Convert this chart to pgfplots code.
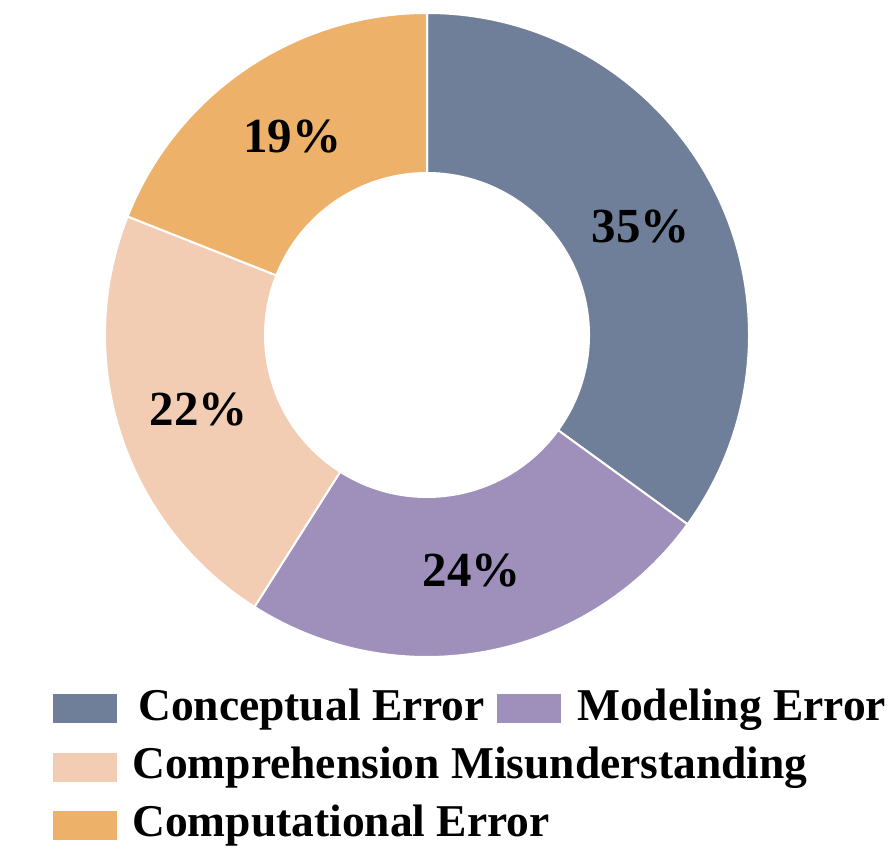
\documentclass[border=0pt]{standalone}
\usepackage{fontspec}
\setmainfont{Liberation Serif}
\usepackage{pgfplots}
\usepackage{pgfplotstable}
\pgfplotsset{compat=1.18}

\definecolor{cConcept}{HTML}{6F7F99}
\definecolor{cModel}{HTML}{9F8FBB}
\definecolor{cCompre}{HTML}{F3CDB3}
\definecolor{cComput}{HTML}{EDB169}

\pgfplotstableread{
value color
35 cConcept
24 cModel
22 cCompre
19 cComput
}\errtable

% donut geometry (axis units = pt)
\def\cx{427}\def\cy{525}
\def\Ro{322}\def\Ri{162}\def\Rl{240}

\tikzset{pct/.style={font=\bfseries\fontsize{49}{54}\selectfont, anchor=center},
         leg/.style={font=\bfseries\fontsize{45.5}{50}\selectfont, anchor=base west, inner sep=0pt}}

\begin{document}
\begin{tikzpicture}
\begin{axis}[
  x=1pt, y=1pt,
  xmin=0, xmax=896, ymin=0, ymax=860,
  hide axis, clip=false,
]
% keep the full frame as bounding box
\path (rel axis cs:0,0) rectangle (rel axis cs:1,1);

\pgfplotstablegetrowsof{\errtable}
\pgfmathtruncatemacro\N{\pgfplotsretval-1}
\xdef\angA{90}
\pgfplotsforeachungrouped \i in {0,...,\N}{
  \pgfplotstablegetelem{\i}{value}\of\errtable \let\v\pgfplotsretval
  \pgfplotstablegetelem{\i}{color}\of\errtable \let\col\pgfplotsretval
  \pgfmathsetmacro\angB{\angA-3.6*\v}
  \pgfmathsetmacro\angM{(\angA+\angB)/2}
  \edef\temp{%
    \noexpand\fill[\col, draw=white, line width=2pt]
      (axis cs:{\cx+\Ro*cos(\angA)},{\cy+\Ro*sin(\angA)})
      arc[start angle=\angA, end angle=\angB, radius=\Ro pt]
      -- (axis cs:{\cx+\Ri*cos(\angB)},{\cy+\Ri*sin(\angB)})
      arc[start angle=\angB, end angle=\angA, radius=\Ri pt] -- cycle;
    \noexpand\node[pct] at (axis cs:{\cx+\Rl*cos(\angM)},{\cy+\Rl*sin(\angM)}) {\v\noexpand\%};
  }
  \temp
  \xdef\angA{\angB}
}

% legend
\fill[cConcept] (axis cs:53,137) rectangle (axis cs:117,166);
\node[leg] at (axis cs:138,140) {Conceptual Error};
\fill[cModel] (axis cs:497,137) rectangle (axis cs:561,166);
\node[leg] at (axis cs:577,140) {Modeling Error};
\fill[cCompre] (axis cs:53,78) rectangle (axis cs:117,107);
\node[leg] at (axis cs:132,82) {Comprehension Misunderstanding};
\fill[cComput] (axis cs:53,20) rectangle (axis cs:117,49);
\node[leg] at (axis cs:132,24) {Computational Error};
\end{axis}
\end{tikzpicture}
\end{document}
